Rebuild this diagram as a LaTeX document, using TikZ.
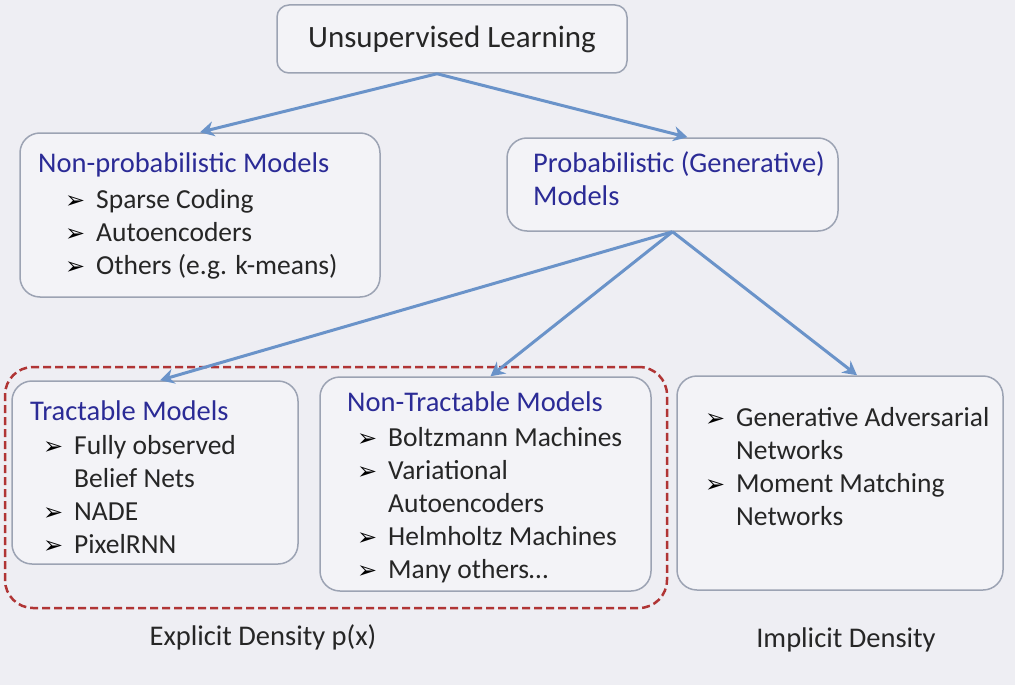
\documentclass[tikz,border=0pt]{standalone}
\usepackage{fontspec}
\setmainfont{Carlito}
\newfontfamily\symfont{DejaVu Sans}
\usetikzlibrary{arrows.meta,positioning,calc}
\definecolor{pagebg}{HTML}{EEEEF3}
\definecolor{boxfill}{HTML}{F3F3F7}
\definecolor{boxline}{HTML}{9CA3B3}
\definecolor{titleblue}{HTML}{2B2B96}
\definecolor{arrowblue}{HTML}{6A93C9}
\definecolor{dashred}{HTML}{B03535}
\definecolor{textdark}{HTML}{262626}

\newcommand{\bul}{{\symfont\fontsize{24}{24}\selectfont\color{black}➢}}
\newcommand{\itm}[1]{\makebox[31pt][l]{\bul}#1}
\newcommand{\cont}[1]{\hspace*{31pt}#1}
\newcommand{\ttl}[1]{{\color{titleblue}\fontsize{28.5}{33}\selectfont #1}}

\begin{document}
\begin{tikzpicture}[x=1pt,y=-1pt,
    box/.style={draw=boxline, fill=boxfill, line width=1.5pt, rounded corners=20pt, inner sep=0pt},
    group/.style={draw=dashred, line width=2.5pt, dash pattern=on 8pt off 4pt, rounded corners=28pt, inner sep=0pt},
    body/.style={text=textdark, font=\fontsize{27.5}{33}\selectfont, align=left, anchor=base west, inner sep=0pt},
    lbl/.style={text=textdark, font=\fontsize{28.5}{30}\selectfont, anchor=base, inner sep=0pt},
    link/.style={draw=arrowblue, line width=3pt, -{Stealth[length=14pt,width=15pt]}}]
  \fill[pagebg] (0,0) rectangle (1015,685);
  \useasboundingbox (0,0) rectangle (1015,685);

  % explicit density group
  \node[group, minimum width=662pt, minimum height=241pt] (explicit) at (336,487.5) {};

  % boxes
  \node[box, rounded corners=12pt, minimum width=350pt, minimum height=68pt, text=textdark,
        font=\fontsize{31}{36}\selectfont] (top) at (452,39) {Unsupervised Learning};
  \node[box, minimum width=360pt, minimum height=164pt] (np) at (200,215) {};
  \node[box, minimum width=331pt, minimum height=93pt] (prob) at (672.5,184.5) {};
  \node[box, minimum width=286pt, minimum height=183pt] (tract) at (155,472.5) {};
  \node[box, minimum width=331pt, minimum height=214pt] (ntract) at (485.5,484) {};
  \node[box, minimum width=326pt, minimum height=214pt] (impl) at (840,483) {};

  % box texts (placed at the baseline of their last line)
  \node[body] (npText) at (38,274) {\ttl{Non-probabilistic Models}\\[3pt]
    \hspace*{27pt}\itm{Sparse Coding}\\
    \hspace*{27pt}\itm{Autoencoders}\\
    \hspace*{27pt}\itm{Others (e.g. k-means)}};
  \node[body] (probText) at (533,205) {\ttl{Probabilistic (Generative)}\\\ttl{Models}};
  \node[body] (tractText) at (30,553) {\ttl{Tractable Models}\\[1pt]
    \hspace*{13pt}\itm{Fully observed}\\
    \hspace*{13pt}\cont{Belief Nets}\\
    \hspace*{13pt}\itm{NADE}\\
    \hspace*{13pt}\itm{PixelRNN}};
  \node[body] (ntractText) at (347,578) {\ttl{Non-Tractable Models}\\[2pt]
    \hspace*{10pt}\itm{Boltzmann Machines}\\
    \hspace*{10pt}\itm{Variational}\\
    \hspace*{10pt}\cont{Autoencoders}\\
    \hspace*{10pt}\itm{Helmholtz Machines}\\
    \hspace*{10pt}\itm{Many others\dots}};
  \node[body] (implText) at (705,525) {\itm{Generative Adversarial}\\
    \cont{Networks}\\
    \itm{Moment Matching}\\
    \cont{Networks}};

  % density labels
  \node[lbl] (explLbl) at (263,645) {Explicit Density p(x)};
  \node[lbl] (implLbl) at (846,647) {Implicit Density};

  % arrows
  \draw[link] ($(top.south)+(-15,0)$) -- (np.north);
  \draw[link] ($(top.south)+(-15,0)$) -- ($(prob.north)+(15,0)$);
  \draw[link] (prob.south) -- ($(tract.north)+(5,0)$);
  \draw[link] (prob.south) -- ($(ntract.north)+(5,0)$);
  \draw[link] (prob.south) -- ($(impl.north)+(17,0)$);
\end{tikzpicture}
\end{document}
